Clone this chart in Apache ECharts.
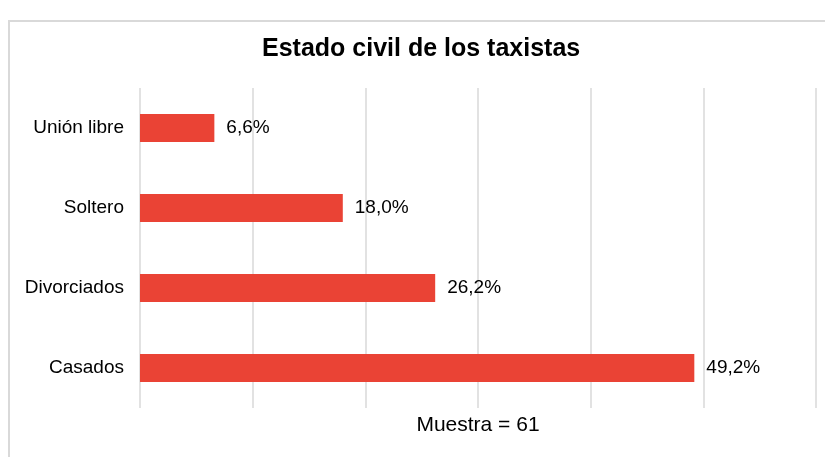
<!DOCTYPE html>
<html>
<head>
<meta charset="utf-8">
<script src="https://cdn.jsdelivr.net/npm/echarts@6/dist/echarts.min.js"></script>
<style>html,body{margin:0;padding:0;background:#fff}#c{width:825px;height:457px}</style>
</head>
<body>
<div id="c"></div>
<script>
const titleText = 'Estado civil de los taxistas';
const categories = ['Casados', 'Divorciados', 'Soltero', 'Unión libre'];
const values = [49.2, 26.2, 18.0, 6.6];
const axisName = 'Muestra = 61';
const xMax = 60;
const xInterval = 10;

const font = "'Liberation Sans', Arial, sans-serif";
const chart = echarts.init(document.getElementById('c'), null, {renderer: 'canvas'});
chart.setOption({
  backgroundColor: '#fff',
  animation: false,
  graphic: [{
    type: 'rect', silent: true, z: -1,
    shape: {x: 9, y: 21, width: 900, height: 500},
    style: {fill: 'none', stroke: '#d9d9d9', lineWidth: 2}
  }],
  title: {
    text: titleText, left: 262, top: 37, padding: 0,
    textStyle: {fontFamily: font, fontSize: 25, fontWeight: 'bold', color: '#000'}
  },
  grid: {left: 140, right: 9, top: 88, bottom: 49, containLabel: false},
  xAxis: {
    type: 'value', min: 0, max: xMax, interval: xInterval,
    name: axisName, nameLocation: 'middle', nameGap: 7,
    nameTextStyle: {fontFamily: font, fontSize: 21, color: '#000'},
    axisLine: {show: false}, axisTick: {show: false}, axisLabel: {show: false},
    splitLine: {show: true, lineStyle: {color: '#d9d9d9', width: 1.5}}
  },
  yAxis: {
    type: 'category', data: categories,
    axisLine: {show: false}, axisTick: {show: false},
    axisLabel: {fontFamily: font, fontSize: 19, color: '#000', margin: 16}
  },
  series: [{
    type: 'bar', data: values, barWidth: 28,
    itemStyle: {color: '#ea4335'},
    label: {
      show: true, position: 'right', distance: 12,
      fontFamily: font, fontSize: 19, color: '#000',
      formatter: p => p.value.toFixed(1).replace('.', ',') + '%'
    }
  }]
});
</script>
</body>
</html>
